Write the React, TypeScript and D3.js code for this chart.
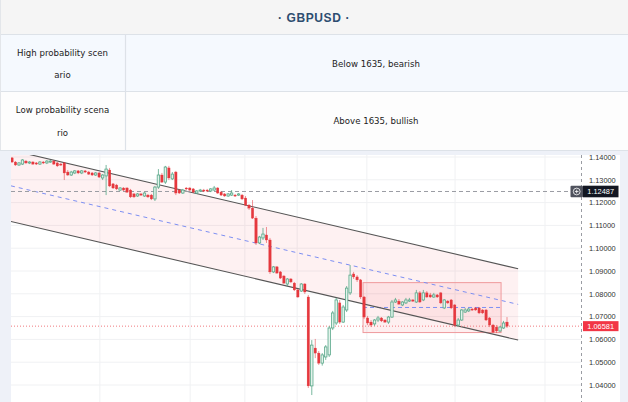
import React from "react";
import * as d3 from "d3";

const title = "· GBPUSD ·";
const scenarioLabels = [
  ["High probability scen", "ario"],
  ["Low probability scena", "rio"],
];
const scenarioTexts = ["Below 1635, bearish", "Above 1635, bullish"];

const opens = [
  1.1396, 1.1378, 1.1365, 1.1369, 1.1382, 1.1374, 1.1378, 1.1374, 1.1369, 1.1378,
  1.1374, 1.1378, 1.1382, 1.1374, 1.1369, 1.1374, 1.1334, 1.1321, 1.1330, 1.1339,
  1.1330, 1.1339, 1.1334, 1.1330, 1.1321, 1.1330, 1.1308, 1.1317, 1.1343, 1.1282,
  1.1277, 1.1255, 1.1264, 1.1264, 1.1255, 1.1238, 1.1229, 1.1238, 1.1229, 1.1233,
  1.1233, 1.1216, 1.1268, 1.1321, 1.1290, 1.1352, 1.1304, 1.1334, 1.1255, 1.1242,
  1.1264, 1.1264, 1.1260, 1.1242, 1.1251, 1.1255, 1.1255, 1.1251, 1.1255, 1.1264,
  1.1246, 1.1238, 1.1229, 1.1233, 1.1233, 1.1233, 1.1233, 1.1220, 1.1189, 1.1176,
  1.1132, 1.1023, 1.1045, 1.1058, 1.1036, 1.0896, 1.0918, 1.0896, 1.0878, 1.0843,
  1.0865, 1.0847, 1.0817, 1.0812, 1.0843, 1.0786, 1.0396, 1.0562, 1.0540, 1.0496,
  1.0523, 1.0532, 1.0650, 1.0672, 1.0760, 1.0676, 1.0729, 1.0804, 1.0887, 1.0874,
  1.0861, 1.0786, 1.0694, 1.0676, 1.0668, 1.0685, 1.0694, 1.0685, 1.0676, 1.0698,
  1.0764, 1.0768, 1.0751, 1.0760, 1.0768, 1.0773, 1.0764, 1.0804, 1.0773, 1.0804,
  1.0795, 1.0786, 1.0795, 1.0804, 1.0738, 1.0768, 1.0773, 1.0751, 1.0663, 1.0685,
  1.0720, 1.0725, 1.0733, 1.0738, 1.0738, 1.0729, 1.0729, 1.0694, 1.0663, 1.0654,
  1.0637, 1.0650, 1.0676,
];
const highs = [
  1.1400, 1.1382, 1.1378, 1.1391, 1.1387, 1.1382, 1.1382, 1.1378, 1.1382, 1.1382,
  1.1387, 1.1387, 1.1387, 1.1378, 1.1374, 1.1378, 1.1343, 1.1339, 1.1343, 1.1343,
  1.1343, 1.1343, 1.1339, 1.1334, 1.1334, 1.1334, 1.1325, 1.1365, 1.1352, 1.1286,
  1.1282, 1.1268, 1.1268, 1.1268, 1.1260, 1.1242, 1.1242, 1.1242, 1.1246, 1.1238,
  1.1238, 1.1273, 1.1347, 1.1330, 1.1361, 1.1361, 1.1334, 1.1339, 1.1260, 1.1260,
  1.1268, 1.1268, 1.1264, 1.1255, 1.1260, 1.1260, 1.1260, 1.1264, 1.1273, 1.1268,
  1.1251, 1.1242, 1.1242, 1.1255, 1.1238, 1.1242, 1.1238, 1.1229, 1.1194, 1.1211,
  1.1141, 1.1054, 1.1089, 1.1093, 1.1045, 1.0922, 1.0922, 1.0900, 1.0882, 1.0869,
  1.0869, 1.0852, 1.0821, 1.0847, 1.0847, 1.0795, 1.0597, 1.0602, 1.0549, 1.0540,
  1.0575, 1.0659, 1.0725, 1.0782, 1.0773, 1.0751, 1.0834, 1.0926, 1.0896, 1.0882,
  1.0865, 1.0790, 1.0703, 1.0685, 1.0689, 1.0703, 1.0698, 1.0689, 1.0703, 1.0773,
  1.0782, 1.0777, 1.0768, 1.0782, 1.0782, 1.0777, 1.0817, 1.0812, 1.0817, 1.0812,
  1.0804, 1.0804, 1.0799, 1.0808, 1.0777, 1.0773, 1.0777, 1.0755, 1.0694, 1.0733,
  1.0738, 1.0738, 1.0738, 1.0742, 1.0742, 1.0733, 1.0733, 1.0698, 1.0668, 1.0663,
  1.0659, 1.0681, 1.0698,
];
const lows = [
  1.1374, 1.1361, 1.1361, 1.1365, 1.1369, 1.1369, 1.1365, 1.1365, 1.1365, 1.1369,
  1.1369, 1.1374, 1.1365, 1.1356, 1.1361, 1.1299, 1.1317, 1.1317, 1.1325, 1.1325,
  1.1325, 1.1330, 1.1321, 1.1317, 1.1317, 1.1308, 1.1299, 1.1233, 1.1268, 1.1260,
  1.1255, 1.1251, 1.1251, 1.1242, 1.1220, 1.1220, 1.1225, 1.1229, 1.1225, 1.1220,
  1.1211, 1.1207, 1.1260, 1.1286, 1.1282, 1.1299, 1.1299, 1.1233, 1.1238, 1.1238,
  1.1255, 1.1251, 1.1242, 1.1238, 1.1246, 1.1246, 1.1246, 1.1246, 1.1251, 1.1238,
  1.1229, 1.1225, 1.1225, 1.1229, 1.1225, 1.1229, 1.1211, 1.1185, 1.1168, 1.1128,
  1.1014, 1.1018, 1.1036, 1.1023, 1.0887, 1.0891, 1.0887, 1.0865, 1.0843, 1.0834,
  1.0847, 1.0812, 1.0782, 1.0808, 1.0799, 1.0387, 1.0356, 1.0518, 1.0488, 1.0485,
  1.0510, 1.0523, 1.0641, 1.0663, 1.0668, 1.0672, 1.0720, 1.0795, 1.0865, 1.0852,
  1.0777, 1.0689, 1.0663, 1.0654, 1.0659, 1.0676, 1.0676, 1.0672, 1.0668, 1.0694,
  1.0760, 1.0751, 1.0746, 1.0755, 1.0764, 1.0764, 1.0760, 1.0760, 1.0768, 1.0782,
  1.0782, 1.0782, 1.0782, 1.0755, 1.0733, 1.0755, 1.0733, 1.0654, 1.0654, 1.0681,
  1.0716, 1.0720, 1.0725, 1.0725, 1.0711, 1.0711, 1.0681, 1.0654, 1.0628, 1.0628,
  1.0632, 1.0646, 1.0650,
];
const closes = [
  1.1378, 1.1365, 1.1374, 1.1387, 1.1374, 1.1378, 1.1369, 1.1369, 1.1378, 1.1374,
  1.1382, 1.1382, 1.1369, 1.1361, 1.1365, 1.1330, 1.1321, 1.1334, 1.1339, 1.1330,
  1.1339, 1.1334, 1.1325, 1.1321, 1.1330, 1.1312, 1.1321, 1.1347, 1.1273, 1.1264,
  1.1260, 1.1264, 1.1255, 1.1246, 1.1225, 1.1225, 1.1238, 1.1233, 1.1242, 1.1225,
  1.1216, 1.1268, 1.1321, 1.1290, 1.1356, 1.1308, 1.1325, 1.1242, 1.1242, 1.1255,
  1.1260, 1.1255, 1.1246, 1.1251, 1.1255, 1.1251, 1.1251, 1.1260, 1.1264, 1.1242,
  1.1233, 1.1229, 1.1238, 1.1242, 1.1229, 1.1238, 1.1216, 1.1189, 1.1176, 1.1132,
  1.1023, 1.1049, 1.1062, 1.1036, 1.0896, 1.0918, 1.0891, 1.0869, 1.0847, 1.0865,
  1.0852, 1.0817, 1.0786, 1.0843, 1.0808, 1.0396, 1.0575, 1.0540, 1.0496, 1.0532,
  1.0567, 1.0650, 1.0716, 1.0773, 1.0676, 1.0742, 1.0825, 1.0882, 1.0874, 1.0861,
  1.0786, 1.0698, 1.0672, 1.0663, 1.0685, 1.0694, 1.0681, 1.0676, 1.0698, 1.0764,
  1.0773, 1.0755, 1.0764, 1.0773, 1.0773, 1.0768, 1.0804, 1.0764, 1.0804, 1.0786,
  1.0786, 1.0795, 1.0786, 1.0760, 1.0773, 1.0760, 1.0738, 1.0663, 1.0685, 1.0729,
  1.0729, 1.0733, 1.0729, 1.0729, 1.0716, 1.0716, 1.0685, 1.0663, 1.0632, 1.0637,
  1.0654, 1.0672, 1.06581,
];

const yTicks = [1.14, 1.13, 1.12, 1.11, 1.1, 1.09, 1.08, 1.07, 1.06, 1.05, 1.04];
const markedPrice = 1.12487;
const lastPrice = 1.06581;

// drawings (time index, price)
const channelIdx = [-0.3, 145.2];
const channelUpper = [1.143, 1.091];
const channelLower = [1.1117, 1.0597];
const boxIdx = [100.7, 140.3];
const boxPrices = [1.0849, 1.063];
const boxMid = 1.074;
const timeGrid = [25.2, 51.1, 66.8, 81.8, 101.8, 127.1, 152.9];

const W = 628;
const H = 402;
const PL = 11;
const PR = 581;
const PT = 155;
const FONT = "'Liberation Sans', Arial, sans-serif";
const TFONT = "'DejaVu Sans', Verdana, sans-serif";

export default function App() {
  const n = closes.length;
  const x = d3.scaleLinear().domain([0, n - 1]).range([12, 507]);
  const y = d3.scaleLinear().domain([1.04, 1.14]).range([385, 157]);
  const bw = 2.4;
  const red = "#e5383e";
  const green = "#5aa88a";

  const upper: [number, number][] = channelIdx.map((t, i) => [x(t), y(channelUpper[i])]);
  const lower: [number, number][] = channelIdx.map((t, i) => [x(t), y(channelLower[i])]);
  const mid: [number, number][] = channelIdx.map((t, i) => [
    x(t),
    y((channelUpper[i] + channelLower[i]) / 2),
  ]);
  const line = d3.line();
  const channelArea = line([...upper, ...lower.slice().reverse()]) + "Z";

  return (
    <div style={{ position: "absolute", left: 0, top: 0 }}>
      <svg width={W} height={H} style={{ display: "block" }}>
        <defs>
          <clipPath id="plot">
            <rect x={PL} y={PT} width={PR - PL} height={H - PT} />
          </clipPath>
        </defs>
        <rect x={0} y={0} width={W} height={H} fill="#ffffff" />
        {/* table */}
        <rect x={0} y={0} width={W} height={34} fill="#f5f5f5" />
        <rect x={0} y={34} width={W} height={58} fill="#f5f9fe" />
        <rect x={0} y={92} width={W} height={58} fill="#fdfdfd" />
        {[34.5, 91.5, 150.5].map((v) => (
          <line key={v} x1={0} x2={W} y1={v} y2={v} stroke="#dde2e8" strokeWidth={1.2} />
        ))}
        <line x1={125.5} x2={125.5} y1={34} y2={150} stroke="#dde2e8" strokeWidth={1.2} />
        <line x1={0.5} x2={0.5} y1={0} y2={150} stroke="#e3e6ea" />
        <text
          x={W / 2}
          y={21.5}
          textAnchor="middle"
          fontFamily={FONT}
          fontWeight="bold"
          fontSize={12}
          letterSpacing={0.6}
          fill="#2d4d70"
        >
          {title}
        </text>
        {scenarioLabels.map((lines, r) => (
          <g key={r}>
            {lines.map((s, k) => (
              <text
                key={k}
                x={62.5}
                y={55.5 + r * 57.5 + k * 22.7}
                textAnchor="middle"
                fontFamily={TFONT}
                fontSize={8.6}
                fill="#222"
              >
                {s}
              </text>
            ))}
            <text
              x={376}
              y={66.5 + r * 57}
              textAnchor="middle"
              fontFamily={TFONT}
              fontSize={8.6}
              fill="#222"
            >
              {scenarioTexts[r]}
            </text>
          </g>
        ))}

        {/* chart frame */}
        <rect x={0} y={151} width={W} height={H - 151} fill="#eef1f8" />
        <rect x={PL} y={PT} width={620 - PL} height={H - PT} fill="#ffffff" />

        <g clipPath="url(#plot)">
          {yTicks.map((t) => (
            <line key={t} x1={PL} x2={PR} y1={y(t)} y2={y(t)} stroke="#f0f1f3" strokeWidth={1} />
          ))}
          {timeGrid.map((t) => (
            <line key={t} x1={x(t)} x2={x(t)} y1={PT} y2={H} stroke="#f0f1f3" strokeWidth={1} />
          ))}
          <path d={channelArea} fill="#f23645" fillOpacity={0.07} />
          <rect
            x={x(boxIdx[0])}
            y={y(boxPrices[0])}
            width={x(boxIdx[1]) - x(boxIdx[0])}
            height={y(boxPrices[1]) - y(boxPrices[0])}
            fill="#f23645"
            fillOpacity={0.08}
            stroke="#ef9a9d"
            strokeWidth={1}
          />
          <line
            x1={x(boxIdx[0])}
            x2={x(boxIdx[1])}
            y1={y(boxMid)}
            y2={y(boxMid)}
            stroke="#7d8ff2"
            strokeWidth={1}
            strokeDasharray="4 3"
          />
          <path d={line(upper) || ""} stroke="#555" strokeWidth={1.1} fill="none" />
          <path d={line(lower) || ""} stroke="#555" strokeWidth={1.1} fill="none" />
          <path
            d={line(mid) || ""}
            stroke="#7d8ff2"
            strokeWidth={1}
            fill="none"
            strokeDasharray="4 4"
          />
          <line
            x1={PL}
            x2={PR}
            y1={y(markedPrice)}
            y2={y(markedPrice)}
            stroke="#9a9ca3"
            strokeWidth={1}
            strokeDasharray="4 3"
          />
          <line
            x1={PL}
            x2={PR}
            y1={y(lastPrice)}
            y2={y(lastPrice)}
            stroke="#f07a7e"
            strokeWidth={1}
            strokeDasharray="1 2"
          />
          {closes.map((c, i) => {
            const o = opens[i];
            const up = c >= o;
            const cx = x(i);
            const top = y(Math.max(o, c));
            const bot = y(Math.min(o, c));
            const col = up ? green : red;
            return (
              <g key={i}>
                <line
                  x1={cx}
                  x2={cx}
                  y1={y(highs[i])}
                  y2={y(lows[i])}
                  stroke={col}
                  strokeOpacity={up ? 0.9 : 0.6}
                  strokeWidth={0.9}
                />
                <rect
                  x={cx - bw / 2}
                  y={top}
                  width={bw}
                  height={Math.max(1, bot - top)}
                  fill={up ? "#e2f3eb" : red}
                  stroke={col}
                  strokeWidth={up ? 0.8 : 0.3}
                />
              </g>
            );
          })}
        </g>

        {/* right axis */}
        <line x1={PR + 0.5} x2={PR + 0.5} y1={PT} y2={H} stroke="#9a9ca3" strokeDasharray="3 3" />
        {yTicks.map((t) => (
          <text
            key={t}
            x={589}
            y={y(t) + 2.7}
            fontFamily={FONT}
            fontSize={7.4}
            fill="#333"
          >
            {t.toFixed(5)}
          </text>
        ))}
        <g>
          <rect x={570.5} y={y(markedPrice) - 5.8} width={12.5} height={11.6} fill="#50535e" rx={1} />
          <circle cx={576.7} cy={y(markedPrice)} r={3.4} fill="none" stroke="#fff" strokeWidth={0.8} />
          <line x1={574.9} x2={578.5} y1={y(markedPrice)} y2={y(markedPrice)} stroke="#fff" strokeWidth={0.8} />
          <line x1={576.7} x2={576.7} y1={y(markedPrice) - 1.8} y2={y(markedPrice) + 1.8} stroke="#fff" strokeWidth={0.8} />
          <rect x={583} y={y(markedPrice) - 5.8} width={35.5} height={11.6} fill="#131722" />
          <text x={600.7} y={y(markedPrice) + 2.7} textAnchor="middle" fontFamily={FONT} fontSize={7.4} fill="#fff">
            {markedPrice.toFixed(5)}
          </text>
        </g>
        <g>
          <rect x={583} y={y(lastPrice) - 5} width={35.5} height={10} fill="#f23645" />
          <text x={600.7} y={y(lastPrice) + 2.7} textAnchor="middle" fontFamily={FONT} fontSize={7.4} fill="#fff">
            {lastPrice.toFixed(5)}
          </text>
        </g>
      </svg>
    </div>
  );
}
